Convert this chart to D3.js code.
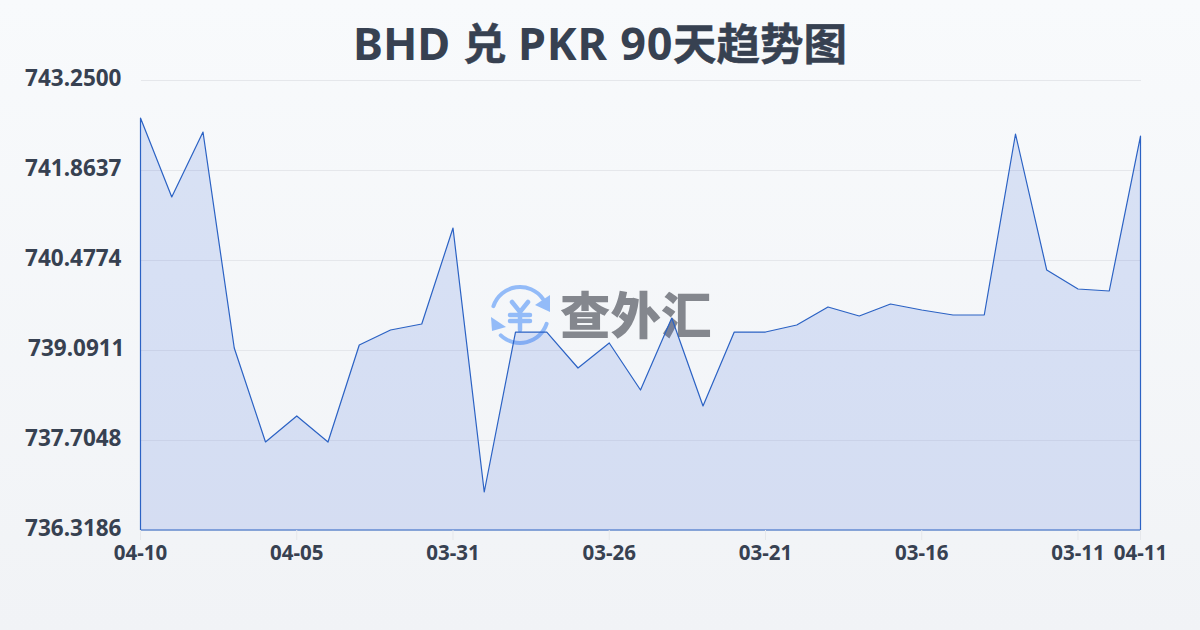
<!DOCTYPE html>
<html>
<head>
<meta charset="utf-8">
<script src="https://cdn.jsdelivr.net/npm/d3@7"></script>
<style>
  html, body { margin: 0; padding: 0; }
  text { font-family: "Noto Sans", "Noto Sans CJK SC", sans-serif; font-weight: 700; fill: #374151; }
</style>
</head>
<body>
<div id="chart"></div>
<script>
// day labels, newest first, the last one wraps back round to 04-11
const days = ["04-10","04-09","04-08","04-07","04-06","04-05","04-04","04-03","04-02","04-01","03-31",
  "03-30","03-29","03-28","03-27","03-26","03-25","03-24","03-23","03-22","03-21",
  "03-20","03-19","03-18","03-17","03-16","03-15","03-14","03-13","03-12","03-11","03-10","04-11"];
const rates = [742.665,741.448,742.449,739.122,737.674,738.075,737.674,739.168,739.399,739.492,740.970,
  736.904,739.368,739.368,738.814,739.199,738.475,739.584,738.229,739.368,739.368,
  739.476,739.754,739.615,739.800,739.707,739.630,739.630,742.418,740.323,740.031,740.000,742.387];
const yTicks = [736.3186,737.7048,739.0911,740.4774,741.8637,743.25];
const xTicks = ["04-10","04-05","03-31","03-26","03-21","03-16","03-11","04-11"];
const titleParts = ["BHD ", "兑 ", "PKR 90", "天趋势图"];
const logoText = "查外汇";

const W = 1200, H = 630;
const margin = { top: 80, right: 60, bottom: 100, left: 140.5 };
const width = W - margin.left - margin.right + 0.5,
      height = H - margin.top - margin.bottom;

const svg = d3.select("#chart").append("svg")
    .attr("width", W)
    .attr("height", H)
    .style("display", "block");

const defs = svg.append("defs");
const bg = defs.append("linearGradient").attr("id", "bg")
    .attr("x1", 0).attr("y1", 0).attr("x2", 0).attr("y2", 1);
bg.append("stop").attr("offset", "0%").attr("stop-color", "#f8fafc");
bg.append("stop").attr("offset", "100%").attr("stop-color", "#f1f3f6");

svg.append("rect").attr("width", W).attr("height", H).attr("fill", "url(#bg)");

// latin and CJK runs are placed one by one, their sizes differ
const titleX = [353, 463, 518, 673];
svg.append("text")
    .attr("y", 60)
    .selectAll("tspan").data(titleParts).join("tspan")
    .attr("x", (d, i) => titleX[i])
    .attr("font-size", (d, i) => i % 2 ? 43.5 : 45)
    .attr("letter-spacing", (d, i) => i === 2 ? 0.8 : 0)
    .style("stroke", "#374151")
    .style("stroke-width", (d, i) => i % 2 ? 0.5 : 0)
    .text(d => d);

// set the ranges
const x = d3.scalePoint().domain(d3.range(days.length)).range([0, width]);
const y = d3.scaleLinear().domain([yTicks[0], yTicks[yTicks.length - 1]]).range([height, 0]);

const g = svg.append("g").attr("transform", `translate(${margin.left},${margin.top})`);

// grid lines
g.selectAll(".grid").data(yTicks).join("line")
    .attr("class", "grid")
    .attr("x1", 0).attr("x2", width)
    .attr("y1", d => y(d)).attr("y2", d => y(d))
    .attr("stroke", "#e5e7eb")
    .attr("shape-rendering", "crispEdges");

// watermark sits under the area: two arcs with arrow heads and the yen sign
const logo = g.append("g").attr("transform", `translate(${520 - margin.left},${315 - margin.top})`);
const logoBlue = "#93bbf8";
const arc = d3.arc().innerRadius(26).outerRadius(30).cornerRadius(2);
logo.append("path").attr("fill", logoBlue)
    .attr("d", arc({ startAngle: -1.32, endAngle: 1.03 }));
logo.append("path").attr("fill", logoBlue)
    .attr("d", arc({ startAngle: 1.82, endAngle: 3.97 }));
logo.append("path").attr("fill", logoBlue).attr("d", "M30,-20 L30,-3 L15,-10 Z");
logo.append("path").attr("fill", logoBlue).attr("d", "M-29,2 L-28,16 L-14,12 Z");
logo.append("path").attr("fill", "none").attr("stroke", logoBlue).attr("stroke-width", 4.5)
    .attr("stroke-linecap", "round")
    .attr("d", "M-8,-13 L0,-3 L8,-13 M-10,0 H10 M-10,6 H10 M0,-3 V15");
g.append("text")
    .attr("x", 560 - margin.left)
    .attr("y", 334 - margin.top)
    .attr("font-size", 50.5)
    .style("fill", "#84878e")
    .style("font-family", "'Noto Sans CJK SC'")
    .style("font-weight", 900)
    .text(logoText);

// filled area, stroked all the way round
const area = d3.area()
    .x((d, i) => x(i))
    .y0(height)
    .y1(d => y(d));

g.append("path")
    .datum(rates)
    .attr("d", d => area(d))
    .attr("fill", "#2d61d6")
    .attr("fill-opacity", 0.15)
    .attr("stroke", "#2b62c4")
    .attr("stroke-width", 1.2)
    .attr("stroke-linejoin", "round");

// y labels
g.selectAll(".ylab").data(yTicks).join("text")
    .attr("class", "ylab")
    .attr("x", d => d === 739.0911 ? -16 : -19)
    .attr("y", d => y(d))
    .attr("dy", 6)
    .attr("text-anchor", "end")
    .attr("font-size", 22.5)
    .text(d => d.toFixed(4));

// x ticks and labels, picked out of the day list
const xIdx = xTicks.map(t => days.indexOf(t));
g.selectAll(".xtick").data(xIdx).join("line")
    .attr("class", "xtick")
    .attr("x1", d => x(d)).attr("x2", d => x(d))
    .attr("y1", height).attr("y2", height + 10)
    .attr("stroke", "#e5e7eb");
g.selectAll(".xlab").data(xIdx).join("text")
    .attr("class", "xlab")
    .attr("x", d => x(d))
    .attr("y", height + 30)
    .attr("text-anchor", "middle")
    .attr("font-size", 20.5)
    .text(d => days[d]);
</script>
</body>
</html>
